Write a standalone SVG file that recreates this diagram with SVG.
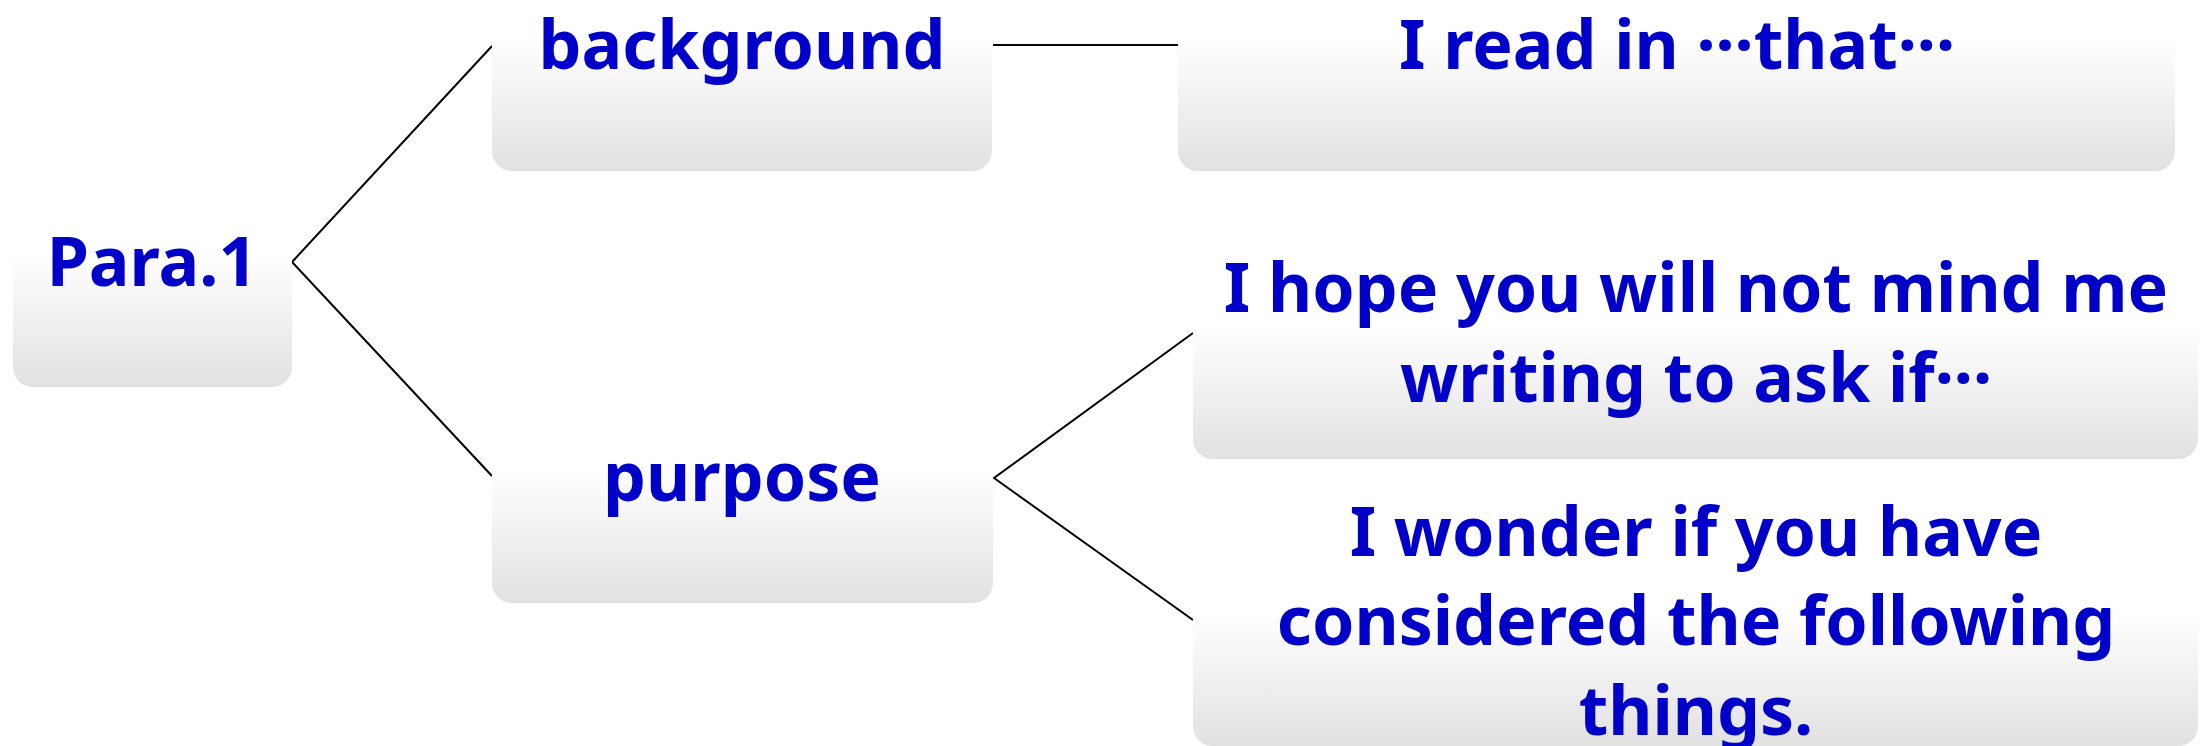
<svg xmlns="http://www.w3.org/2000/svg" width="2205" height="746" viewBox="0 0 2205 746">
<defs>
<linearGradient id="g" x1="0" y1="0" x2="0" y2="1">
<stop offset="0" stop-color="#ffffff"/>
<stop offset="0.47" stop-color="#ffffff"/>
<stop offset="1" stop-color="#e1e1e1"/>
</linearGradient>
</defs>
<style>
.box{fill:url(#g);}
.t{font-family:"Noto Sans","Open Sans","Liberation Sans",sans-serif;font-weight:bold;font-size:68px;fill:#0000c8;text-anchor:middle;}
.c{stroke:#000;stroke-width:2;fill:none;}
</style>
<rect width="2205" height="746" fill="#fff"/>
<g id="connectors">
<polyline class="c" points="492,46 292,262 492,476"/>
<line class="c" x1="993" y1="45" x2="1178" y2="45"/>
<polyline class="c" points="1193,333 994,478 1193,620"/>
</g>
<g id="para1">
<rect class="box" x="13" y="137" width="279" height="250" rx="20"/>
<text class="t" x="152" y="286">Para.1</text>
</g>
<g id="background">
<rect class="box" x="492" y="-80" width="500" height="251" rx="20"/>
<text class="t" x="742" y="69">background</text>
</g>
<g id="purpose">
<rect class="box" x="492" y="353" width="501" height="250" rx="20"/>
<text class="t" x="742" y="501">purpose</text>
</g>
<g id="readin">
<rect class="box" x="1178" y="-80" width="997" height="251" rx="20"/>
<text class="t" x="1677" y="69">I read in ···that···</text>
</g>
<g id="hope">
<rect class="box" x="1193" y="207" width="1005" height="252" rx="20"/>
<text class="t" x="1696" y="312">I hope you will not mind me</text>
<text class="t" x="1696" y="402">writing to ask if···</text>
</g>
<g id="wonder">
<rect class="box" x="1193" y="494" width="1005" height="252" rx="20"/>
<text class="t" x="1696" y="556">I wonder if you have</text>
<text class="t" x="1696" y="645">considered the following</text>
<text class="t" x="1696" y="735">things.</text>
</g>
</svg>
